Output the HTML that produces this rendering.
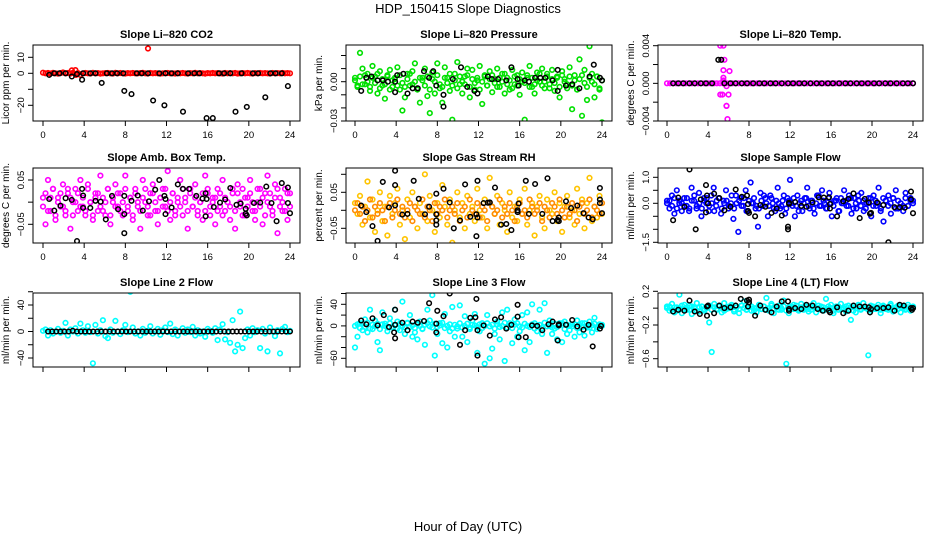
<!DOCTYPE html>
<html><head><meta charset="utf-8">
<style>
html,body{margin:0;padding:0;background:#fff;}
svg{display:block;font-family:"Liberation Sans",sans-serif;}
</style></head>
<body>
<svg id="chart" width="936" height="540" viewBox="0 0 936 540">
<text x="468" y="13" text-anchor="middle" font-size="13">HDP_150415  Slope Diagnostics</text>
<text x="468" y="531" text-anchor="middle" font-size="13">Hour of Day (UTC)</text>
</svg>
<script>
// ---------- data ----------
const xTicks = [0,4,8,12,16,20,24];
const xTickLabels = ["0","4","8","12","16","20","24"];

// CO2 (ppm/min)
const co2RedVals = [0.4,0,0.2,-0.1,0.3,0,-0.2,0.1,0.5,0,0.2,-0.1,0.3,2,0.1,-1,0,0.2,0,-0.1,0.3,0,0.1,-0.2,0,0.1,0.2,0,-0.1,0.3,0,0.2,0,-0.1,0.1,0,0.2,0,0,0.1,0.3,0,-0.1,0.2,0,0.1,0,-0.2,0,0.1,0.2,0,0,-0.1,0.1,0,0.2,0,-0.1,0.1,0,0.3,0,0.1,0,-0.2,0.1,0,0.2,0,0.1,0,-0.1,0.2,0,0.1,0,0.2,-0.1,0,0.1,0,0.2,0,-0.1,0.1,0,0.2,0,0.1,0,-0.1,0.2,0,0.1,0,0.2,0,0.1,0];
const co2RedExtraHours = [10.2,2.8,3.2];
const co2RedExtraVals = [15.5,1.8,-1];
const co2BlackHours = [0.6,1.1,1.6,2.2,2.8,3.3,3.8,3.9,4.6,5.1,5.7,6.2,6.7,7.2,7.8,7.9,8.6,9.1,9.6,10.2,10.7,11.3,11.8,11.9,12.5,13.1,13.6,14.1,14.7,15.2,15.9,16.5,17.1,17.6,18.2,18.7,19.3,19.8,20.4,20.9,21.6,22.1,22.6,23.2,23.8];
const co2BlackVals = [-1,0,0,0,-2,-0.5,-4,0,0,0,-6,0,0,0,0,-11,-13,0,0,0,-17,0,-20,0,0,0,-24,0,0,0,-28,-28,0,0,0,-24,0,-21,0,0,-15,0,0,0,-8];

// Pressure (x0.001 kPa/min)
const presGreenA = [3,-4,22,10,-2,6,-7,12,4,-9,8,-3,-13,5,9,-4,2,11,-6,-22,-12,6,-3,8,14,-6,-16,3,10,-11,-24,7,-9,14,-5,-16,11,3,-7,-29,6,15,-2,-9,4,10,-12,9,-6,1,12,-17,5,-3,8,-8,2,10,-4,6,-9,3,-6,9,-2,5,-10,7,-29,3,12,-4,-9,7,0,10,-5,6,-2,9,-7,4,-12,8,2,-5,11,-21,5,-6,17,-26,9,-14,27,6,-12,4,-6,-31];
const presGreenB = [1,-3,4,-2,5,0,-4,3,-1,6,-5,2,-2,4,-6,1,3,-3,5,-1,-4,2,6,-2,0,-5,3,1,-3,4,-6,2,0,5,-2,-4,3,-1,6,-3,1,-5,4,0,-2,5,-4,2,-1,3,-6,0,4,-3,2,5,-1,-4,3,0,6,-2,1,-5,4,-3,2,0,-1,5,-4,3,-2,1,6,-3,0,4,-5,2,-1,3,-4,5,0,-2,4,-3,1,-6,2,5,-1,-4,3,0,-2,4,-5,1];
const presBlackHours = [0.6,1.1,1.6,2.2,2.7,3.2,3.9,3.9,4.1,4.7,5.1,5.6,6.1,6.7,7.2,7.6,7.9,8.6,8.6,9.5,10.3,10.9,11.6,11.9,12.9,13.3,13.9,14.7,15.2,15.8,15.9,16.5,16.9,17.5,18.0,18.5,19.2,19.7,19.7,20.5,21.1,21.8,22.8,23.2,23.8,24];
const presBlackVals = [-7,3,4,1,1,0,-8,0,5,6,-9,-5,-5,8,3,8,-3,-10,-19,2,11,-4,-7,-9,4,2,2,1,11,2,-3,1,0,3,3,3,1,9,-7,-3,-2,-5,4,13,3,1];

// Li-820 Temp (x0.001 degC/min)
const tempMagVals = [0,0,0,0,0,0,0,0,0,0,0,0,0,0,0,0,0,0,0,0,0,0,0,0,0,0,0,0,0,0,0,0,0,0,0,0,0,0,0,0,0,0,0,0,0,0,0,0,0,0,0,0,0,0,0,0,0,0,0,0,0,0,0,0,0,0,0,0,0,0,0,0,0,0,0,0,0,0,0,0];
const tempMagExtraHours = [5.2,5.5,5.6,6.1,5.5,5.5,5.8,5.2,5.4,6.0,5.8,5.8,5.9,5.5];
const tempMagExtraVals = [4,4,2.5,1.3,1.4,0.6,-0.3,-1.2,-1.2,-1.2,-2.4,-2.4,-3.8,0.3];
const tempBlackHours = [0.6,1.1,1.6,2.2,2.7,3.3,3.8,4.4,5.0,5.3,5.6,6.2,6.7,7.3,7.8,8.4,9.0,9.5,10.1,10.6,11.2,11.8,12.3,12.9,13.4,14.0,14.6,15.1,15.7,16.2,16.8,17.4,17.9,18.5,19.0,19.6,20.2,20.7,21.3,21.8,22.4,23.0,23.5,24];
const tempBlackVals = [0,0,0,0,0,0,0,0,2.5,2.5,0,0,0,0,0,0,0,0,0,0,0,0,0,0,0,0,0,0,0,0,0,0,0,0,0,0,0,0,0,0,0,0,0,0];

// Amb box temp (x0.01 degC/min)
const ambMagA = [1,-5,5,-2,3,-4,1,-1,4,-3,2,-6,0,3,-2,5,-1,-3,4,0,-4,2,-2,6,1,-3,3,-5,0,4,-1,2,-3,6,-2,1,-4,3,-1,-6,5,0,-3,2,4,-2,-5,1,3,-1,7,-4,2,-2,0,5,-3,1,-6,3,-1,4,-2,0,-4,6,2,-3,1,-5,3,-1,5,-2,0,-4,2,-6,4,-1,3,-3,1,5,-2,-4,0,3,-5,2,6,-1,-3,4,-7,1,-2,3,-4,2];
const ambMagB = [-1,2,-2,1,3,-3,0,2,-1,-2,3,1,-3,0,2,-1,1,-2,3,0,-3,1,2,-1,-2,0,3,-3,1,-1,2,-2,0,3,-1,1,-3,2,0,-2,1,3,-1,-3,2,0,-2,1,-1,3,-2,0,2,-3,1,-1,3,0,-2,2,-1,1,-3,0,2,-2,3,-1,0,1,-2,2,-3,1,0,-1,3,-2,2,0,-3,1,-1,2,0,-2,3,-1,1,-3,0,2,-2,1,3,-1,0,-2,2,-1];
const ambBlackHours = [0.6,1.1,1.7,2.2,2.8,3.3,3.8,3.9,3.9,4.6,5.1,5.6,6.1,6.7,7.3,7.9,7.9,7.9,8.6,9.2,9.7,10.3,10.9,11.3,11.8,11.9,11.9,12.5,13.1,13.6,14.2,14.9,15.5,15.8,15.8,15.9,16.6,17.2,17.7,18.2,18.8,19.2,19.7,19.7,19.8,20.5,21.1,21.7,22.2,22.7,23.2,23.8,23.8,24];
const ambBlackVals = [0.7,-1.9,-0.8,0.9,0.5,-8.8,3,1.5,-1.3,-1.3,0.3,0.1,-3.9,1.4,-1.6,-2.7,-7,1.4,0.3,1.5,-1.9,0.2,2.8,5,1.4,-2.7,0.7,-1.2,4,3,3,1.4,0.8,2,-3.2,0.7,-1.1,-0.1,0.6,3.2,-0.6,-0.3,-1.5,-2.6,-3,-0.2,-0.1,3.5,-0.2,-4.3,4.3,3.3,-0.2,-2.5];

// Gas stream RH (x0.01 %/min)
const rhA = [2,-1,4,-4,1,8,-2,3,-6,0,5,-3,1,-7,4,-1,2,6,-4,0,-8,3,-2,5,1,-5,2,-1,10,-3,4,0,-6,2,-2,7,1,-4,3,-9,0,5,-2,2,-5,4,-1,1,-3,6,0,-2,3,-5,9,1,-1,4,-4,2,0,-6,5,-2,1,-3,3,-1,6,-4,0,2,-7,1,4,-2,-5,3,0,-1,5,-3,2,-6,1,4,-2,0,-4,6,-1,3,-5,2,9,-3,1,-2,4,-1];
const rhB = [0,2,-1,1,-3,0,3,-2,1,-1,2,0,-3,1,2,-2,0,3,-1,1,-2,0,2,-3,1,0,-1,3,-2,1,0,-3,2,-1,1,0,3,-2,0,1,-1,2,-3,0,1,-2,3,0,-1,2,-2,1,0,-3,2,1,-1,0,3,-2,1,-1,2,0,-3,1,2,-1,0,-2,3,1,-1,0,2,-3,1,0,-2,2,1,-1,3,0,-2,1,-1,2,0,-3,1,2,-1,0,3,-2,1,0,-1,2];
const rhBlackHours = [0.6,1.1,1.7,2.2,2.7,3.3,3.9,3.9,3.9,4.6,5.1,5.7,6.2,6.8,7.2,7.9,7.9,7.9,7.9,8.6,9.2,9.6,10.2,10.7,11.2,11.8,11.8,11.9,11.9,12.5,12.9,13.1,13.6,14.2,14.7,15.2,15.8,15.8,15.9,16.6,16.9,17.5,18.2,18.7,19.2,19.7,19.8,19.8,20.5,21,21.6,22.2,22.7,23.1,23.8,23.8,23.8,24];
const rhBlackVals = [1.3,-0.5,-4.4,-8.5,7.9,0.8,11,7,1.4,-1.2,-1,8.2,3.2,-1.1,1,4.6,-1.1,-2.8,-4,6,2.2,-5,-2.8,7.2,-1.8,-7.2,-1.1,-2,8.2,2,2.1,2.2,6.3,-4,-3.8,-5.5,0,-0.5,1.9,8.2,-1,7.3,-1,8.9,-3,-2.7,-2,-3,2.5,0.6,1.3,-0.8,-2,-2.5,6.2,3,2,-0.8];

// Sample flow (x0.1 ml/min/min)
const flowBlueA = [1,-2,3,-4,5,0,-3,2,-1,-3,6,1,-2,4,-5,2,0,-3,3,6,-1,2,-4,1,5,-2,0,-6,3,-11,2,-1,5,-3,8,0,-2,-9,4,-1,2,-5,3,0,-3,6,-2,1,-4,2,9,-1,-5,3,0,-3,2,6,-2,1,-4,3,-1,5,0,-2,4,-5,1,2,-3,0,5,-1,3,-4,2,-2,1,4,-3,0,2,-5,3,-1,6,-2,-7,1,3,-4,2,5,-2,0,-3,4,-1,2,1];
const flowBlueB = [0,1,-1,2,-2,1,0,-1,2,-2,1,3,-1,0,-2,1,2,-1,0,-3,1,2,-2,0,1,-1,3,-2,0,1,-1,2,-3,1,0,2,-1,-2,1,3,0,-1,2,-2,1,0,-1,3,-2,1,0,2,-1,-3,1,0,2,-1,1,-2,0,3,-1,1,-2,2,0,-1,1,-3,2,0,1,-1,2,-2,0,3,-1,1,-2,0,2,-1,1,0,-3,2,1,-1,0,2,-2,1,0,-1,2,-1,1,0];
const flowBlackHours = [0.6,1.1,1.7,2.2,2.8,3.3,3.8,3.8,3.9,4,4.6,5.1,5.6,6.2,6.7,7.3,7.8,7.9,7.9,8,8.6,9.1,9.6,10.2,10.7,11.2,11.8,11.8,11.9,11.9,12.5,13.1,13.6,14.2,14.8,15.3,15.8,15.9,15.9,16.6,17.2,17.7,18.2,18.8,19.3,19.7,19.8,19.9,20.5,21.1,21.6,22.2,22.7,23.2,23.8,23.8,24];
const flowBlackVals = [-6.5,2.2,-1.4,13,-10,1.5,-3.5,7,3,0,3.7,2,-2.7,-1.3,5.3,2.5,3,-3,-0.3,-3.7,-5,-0.7,-1.3,-3.7,-2,-4.7,-9,-10,-0.2,0.2,0.5,-1,-1.3,0.3,2.3,2.2,2.3,-0.3,-2,-5,0.8,1.7,3.8,-5.7,1.7,0.3,-4,-3.7,0.3,-0.7,-15,-1.5,-1.5,-1.7,4.5,1.5,-3.8];

// Line 2 flow (ml/min/min)
const line2CyanVals = [1,3,-6,2,-3,0,4,-2,1,13,-6,3,0,5,-3,12,2,-2,8,-1,-48,10,-3,2,17,-7,-10,3,-2,16,0,-4,2,10,-1,60,6,-3,0,-6,4,-2,1,8,-3,0,4,-5,2,6,-1,12,-4,3,-6,0,5,-2,3,-1,7,-6,2,-3,0,-8,4,1,-2,5,-13,3,11,-12,-1,-17,17,-30,-20,30,-25,-10,3,-6,5,-1,2,-25,4,-3,-30,6,0,-7,2,-33,4,7,-1,1];
const line2BlackVals = [0,0,0,0,0,0,1,0,0,0,0,0,0,0,0,0,0,0,0,0,0,0,0,0,0,0,0,0,0,0,0,0,0,0,0,0,0,0,0,0,0,0,0,0,0,0,0,0,0,0,0,0,0,0,0,0,0,0,0,0];

// Line 3 flow (ml/min/min)
const line3CyanA = [-40,-20,5,-8,12,-12,30,-6,10,-30,-45,25,4,-10,14,-3,30,8,-8,45,-15,5,20,-20,-12,-25,8,-5,-35,30,10,57,-55,-15,5,-32,22,-40,-10,35,-20,-5,38,-20,18,-30,-3,10,22,-50,-10,5,-70,20,-60,-42,-15,8,-25,25,-65,30,5,-32,12,-20,-10,20,-45,25,-30,40,5,-10,30,-15,42,-50,10,-15,-5,-25,5,-30,8,-15,-8,3,-20,10,-12,5,-18,-3,8,-12,15,-6,3,0];
const line3CyanB = [0,3,-4,5,-2,6,-5,2,-1,4,-6,3,0,-3,5,-2,1,-5,4,0,-3,6,-2,1,-4,3,0,-6,2,5,-1,-3,4,-2,1,6,-4,0,3,-5,2,-1,5,-3,0,4,-6,2,1,-2,3,-4,0,5,-1,2,-5,3,-2,0,6,-3,1,-4,2,5,-1,-3,4,0,-2,3,-5,1,2,-4,6,-1,0,-3,4,-2,1,5,-6,2,0,-1,3,-4,2,-2,5,0,-3,1,4,-2,0,2];
const line3BlackHours = [0.6,1.1,1.7,2.2,2.8,3.3,3.8,3.9,3.9,3.9,4.6,5.1,5.6,6.1,6.7,7.2,7.9,7.9,8,8.6,9.2,10.2,10.7,11.2,11.7,11.8,11.9,11.9,12.5,13.1,13.6,14.2,14.7,15.2,15.8,15.8,15.9,16.6,17.2,17.7,18.2,18.8,19.2,19.7,19.8,19.8,20.5,21.1,21.6,22.2,22.7,23.1,23.8,23.9];
const line3BlackVals = [10,3,14,1,20,-2,-12,30,-23,2,6,-8,8,6,9,42,4,-12,28,18,60,-35,-8,15,16,50,-55,-8,1,-18,12,16,-5,2,17,39,-21,-21,1,0,-8,3,8,-27,1,3,2,11,-1,-7,2,-38,-5,0];

// Line 4 (LT) flow (x0.01 ml/min/min)
const line4CyanA = [2,-3,5,-5,1,16,-6,4,-2,3,-7,1,6,-4,2,-3,0,-17,-52,5,-2,3,-5,6,-1,2,4,-4,1,-6,3,8,-2,5,-3,0,-5,4,-1,2,12,-3,5,-6,1,3,-2,9,-66,-6,2,4,-1,-3,5,-2,1,-4,3,6,-5,0,2,-3,11,-1,4,-6,2,-2,5,0,-4,3,-14,1,-5,4,-2,6,0,-56,-3,2,-1,4,-6,3,1,-2,5,-4,0,3,-5,2,-1,4,-3,0];
const line4CyanB = [0,2,-2,1,-3,0,3,-1,1,-2,2,0,-3,1,2,-1,0,3,-2,1,-1,2,0,-3,1,0,2,-2,1,-1,3,0,-2,1,2,-3,0,1,-1,2,-2,0,3,-1,1,-2,0,2,-3,1,0,-1,3,-2,1,0,2,-1,-2,1,0,3,-2,1,-1,2,0,-3,1,2,-1,0,2,-2,1,-3,0,2,-1,1,0,-2,3,-1,0,1,-2,2,-1,0,3,-2,1,-1,2,0,-2,1,0,2];
const line4BlackHours = [0.6,1.1,1.7,2.2,2.7,3.2,3.9,3.9,4.0,4.6,5.1,5.6,6.2,6.7,7.2,7.8,7.9,8,8,8.6,9.1,9.6,10.2,10.7,11.2,11.8,11.9,11.9,12.5,13.1,13.6,14.2,14.7,15.2,15.8,15.9,16.6,17.2,17.7,18.2,18.8,19.3,19.7,19.8,19.9,20.5,21.1,21.6,22.2,22.7,23.1,23.8,23.9,24];
const line4BlackVals = [-4,-2,-3,9,-4,-7,-9,2,3,-6,3,0,1,3,11,9,2,7,10,-9,3,-2,-5,2,8,8,-3,-1,0,-1,4,3,-1,-3,-3,-5,1,-6,-3,3,2,2,1,-5,-1,0,0,1,-3,4,3,0,-2,0];

// ---------- drawing ----------
const NS = "http://www.w3.org/2000/svg";
const svg = document.getElementById("chart");
function el(tag, attrs, parent){ const e=document.createElementNS(NS,tag); for(const k in attrs) e.setAttribute(k,attrs[k]); (parent||svg).appendChild(e); return e; }

const panels = [
 {key:"co2",title:"Slope Li\u2013820 CO2",ylab:"Licor ppm per min.",box:[33,45,300,121],x0:43,x24:290,yA:[0,73.3],yB:[-20,105.3],
  yticks:[-20,-10,0,10],ylabels:{"-20":"\u221220","0":"0","10":"10"},showX:true,
  series:[{vals:co2RedVals,color:"#ff0000"},{hours:co2RedExtraHours,vals:co2RedExtraVals,color:"#ff0000"},{hours:co2BlackHours,vals:co2BlackVals,color:"#000"}]},
 {key:"pressure",title:"Slope Li\u2013820 Pressure",ylab:"kPa per min.",box:[346,45,612,121],x0:355,x24:602,yA:[0,81.7],yB:[-30,121],
  yticks:[-30,-20,-10,0,10,20],ylabels:{"-30":"\u22120.03","0":"0.00"},showX:true,
  series:[{vals:presGreenA,color:"#00e000"},{vals:presGreenB,color:"#00e000"},{hours:presBlackHours,vals:presBlackVals,color:"#000"}]},
 {key:"temp",title:"Slope Li\u2013820 Temp.",ylab:"degrees C per min.",box:[658,45,923,121],x0:667,x24:913,yA:[4,45.7],yB:[-4,121],
  yticks:[-4,-2,0,2,4],ylabels:{"-4":"\u22120.004","0":"0.000","4":"0.004"},showX:true,
  series:[{vals:tempMagVals,color:"#ff00ff"},{hours:tempMagExtraHours,vals:tempMagExtraVals,color:"#ff00ff"},{hours:tempBlackHours,vals:tempBlackVals,color:"#000"}]},
 {key:"amb",title:"Slope Amb. Box Temp.",ylab:"degrees C per min.",box:[33,168,300,243],x0:43,x24:290,yA:[5,180],yB:[-5,224.3],
  yticks:[-5,0,5],ylabels:{"-5":"\u22120.05","5":"0.05"},showX:true,
  series:[{vals:ambMagA,color:"#ff00ff"},{vals:ambMagB,color:"#ff00ff"},{hours:ambBlackHours,vals:ambBlackVals,color:"#000"}]},
 {key:"rh",title:"Slope Gas Stream RH",ylab:"percent per min.",box:[346,168,612,243],x0:355,x24:602,yA:[5,192.3],yB:[-5,228.3],
  yticks:[-5,0,5,10],ylabels:{"-5":"\u22120.05","5":"0.05"},showX:true,
  series:[{vals:rhA,color:"#ffc400"},{vals:rhB,color:"#ff8c00"},{hours:rhBlackHours,vals:rhBlackVals,color:"#000"}]},
 {key:"sampleflow",title:"Slope Sample Flow",ylab:"ml/min per min.",box:[658,168,923,243],x0:667,x24:913,yA:[10,177.3],yB:[0,203.3],
  yticks:[-15,-10,-5,0,5,10],ylabels:{"-15":"\u22121.5","0":"0.0","10":"1.0"},showX:true,
  series:[{vals:flowBlueA,color:"#0000ff"},{vals:flowBlueB,color:"#0000ff"},{hours:flowBlackHours,vals:flowBlackVals,color:"#000"}]},
 {key:"line2",title:"Slope Line 2 Flow",ylab:"ml/min per min.",box:[33,293,300,367],x0:43,x24:290,yA:[40,305],yB:[-40,358],
  yticks:[-40,-20,0,20,40,60],ylabels:{"-40":"\u221240","0":"0","40":"40"},showX:false,
  series:[{vals:line2CyanVals,color:"#00ffff"},{vals:line2BlackVals,color:"#000",start:0.5}]},
 {key:"line3",title:"Slope Line 3 Flow",ylab:"ml/min per min.",box:[346,293,612,367],x0:355,x24:602,yA:[40,304.3],yB:[-60,358.3],
  yticks:[-60,-40,-20,0,20,40,60],ylabels:{"-60":"\u221260","0":"0","40":"40"},showX:false,
  series:[{vals:line3CyanA,color:"#00ffff"},{vals:line3CyanB,color:"#00ffff"},{hours:line3BlackHours,vals:line3BlackVals,color:"#000"}]},
 {key:"line4",title:"Slope Line 4 (LT) Flow",ylab:"ml/min per min.",box:[658,293,923,367],x0:667,x24:913,yA:[20,291.3],yB:[-60,358.7],
  yticks:[-60,-40,-20,0,20],ylabels:{"-60":"\u22120.6","-20":"\u22120.2","20":"0.2"},showX:false,
  series:[{vals:line4CyanA,color:"#00ffff"},{vals:line4CyanB,color:"#00ffff"},{hours:line4BlackHours,vals:line4BlackVals,color:"#000"}]}
];

panels.forEach(p=>{
  const g = el("g",{});
  
  
  const [L,T,R,B] = p.box;
  const xs = h => p.x0 + (p.x24-p.x0)*h/24;
  const ys = v => p.yA[1] + (v-p.yA[0])*(p.yB[1]-p.yA[1])/(p.yB[0]-p.yA[0]);
  const t = el("text",{x:(L+R)/2,y:T-7,"text-anchor":"middle","font-size":"11","font-weight":"bold"},g);
  t.textContent = p.title;
  
  
  const cp = el("clipPath",{id:"clip-"+p.key},g);
  el("rect",{x:L,y:T,width:R-L,height:B-T},cp);
  const marks = el("g",{"clip-path":"url(#clip-"+p.key+")"},g);
  
  
  p.series.forEach(s=>{
    let hours = s.hours;
    if(!hours){
      hours=[]; const st=s.start||0;
      for(let i=0;i<s.vals.length;i++) hours.push(st+(24-st)*i/(s.vals.length-1));
    }
    s.vals.forEach((v,i)=>{
      const c = el("circle",{cx:xs(hours[i]).toFixed(1),cy:ys(v).toFixed(1),r:2.3,fill:"none",stroke:s.color,"stroke-width":s.color==="#000"?1.5:1.6},marks);
      
      
    });
  });
  const box = el("rect",{x:L,y:T,width:R-L,height:B-T,fill:"none",stroke:"#000","stroke-width":1},g);
  
  
  xTicks.forEach((h,i)=>{
    const x = xs(h);
    el("line",{x1:x,y1:B,x2:x,y2:B+5,stroke:"#000"},g);
    if(p.showX){
      const tl = el("text",{x:x,y:B+17,"text-anchor":"middle","font-size":"9.5"},g);
      tl.textContent = xTickLabels[i];
      
      
    }
  });
  p.yticks.forEach(v=>{
    const y = ys(v);
    el("line",{x1:L-5,y1:y,x2:L,y2:y,stroke:"#000"},g);
    const lab = p.ylabels[String(v)];
    if(lab){
      const tl = el("text",{x:L-9,y:y,"text-anchor":"middle","font-size":"9.5",transform:"rotate(-90 "+(L-9)+" "+y+")"},g);
      tl.textContent = lab;
      
      
    }
  });
  const yl = el("text",{x:L-24,y:(T+B)/2,"text-anchor":"middle","font-size":"10",transform:"rotate(-90 "+(L-24)+" "+((T+B)/2)+")"},g);
  yl.textContent = p.ylab;
  
  
});
</script>
</body></html>
